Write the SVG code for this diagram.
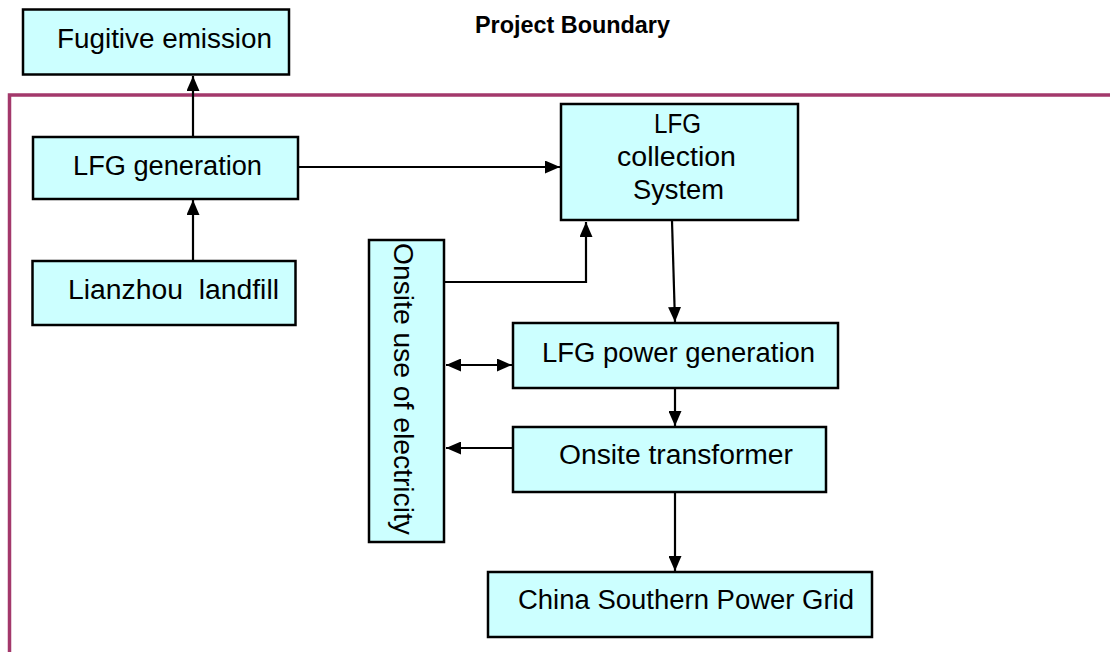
<svg xmlns="http://www.w3.org/2000/svg" width="1110" height="652" viewBox="0 0 1110 652">
<style>
.box{fill:#ccffff;stroke:#000;stroke-width:2.5}
.t{font-family:"Liberation Sans",Arial,sans-serif;font-size:27px;fill:#000}
.c{stroke:#000;stroke-width:2.2;fill:none}
.b{stroke:#a3386b;stroke-width:3.5;fill:none}
</style>
<defs>
<marker id="ah" viewBox="0 0 15 13" refX="15" refY="6.5" markerWidth="15" markerHeight="13" markerUnits="userSpaceOnUse" orient="auto-start-reverse">
<path d="M0,0 L15,6.5 L0,13 Z" fill="#000"/>
</marker>
</defs>
<rect width="1110" height="652" fill="#fff"/>
<g id="boundary">
<polyline class="b" points="1110,95 9.5,95 9.5,652"/>
<text x="475" y="33" font-family="Liberation Sans, Arial, sans-serif" font-size="23" font-weight="bold" textLength="195" lengthAdjust="spacingAndGlyphs">Project Boundary</text>
</g>
<g id="connectors">
<line class="c" x1="193" y1="137" x2="193" y2="76" marker-end="url(#ah)"/>
<line class="c" x1="193" y1="261" x2="193" y2="200" marker-end="url(#ah)"/>
<line class="c" x1="298" y1="167" x2="560" y2="167" marker-end="url(#ah)"/>
<polyline class="c" points="441,282 586,282 586,222" marker-end="url(#ah)"/>
<line class="c" x1="672" y1="221" x2="675" y2="322" marker-end="url(#ah)"/>
<line class="c" x1="446" y1="365" x2="512" y2="365" marker-start="url(#ah)" marker-end="url(#ah)"/>
<line class="c" x1="675" y1="388" x2="675" y2="426" marker-end="url(#ah)"/>
<line class="c" x1="513" y1="448" x2="446" y2="448" marker-end="url(#ah)"/>
<line class="c" x1="675" y1="492" x2="675" y2="571" marker-end="url(#ah)"/>
</g>
<g id="fugitive">
<rect class="box" x="23" y="9.5" width="266" height="65"/>
<text class="t" x="57" y="48" textLength="215" lengthAdjust="spacingAndGlyphs">Fugitive emission</text>
</g>
<g id="lfg-generation">
<rect class="box" x="33" y="137" width="265" height="62"/>
<text class="t" x="73" y="175" textLength="189" lengthAdjust="spacingAndGlyphs">LFG generation</text>
</g>
<g id="landfill">
<rect class="box" x="32.5" y="261" width="263" height="64"/>
<text class="t" x="68" y="299" textLength="211" lengthAdjust="spacingAndGlyphs" xml:space="preserve">Lianzhou  landfill</text>
</g>
<g id="collection">
<rect class="box" x="561" y="104" width="237" height="116"/>
<text class="t" x="654" y="133" textLength="47" lengthAdjust="spacingAndGlyphs">LFG</text>
<text class="t" x="617" y="166" textLength="119" lengthAdjust="spacingAndGlyphs">collection</text>
<text class="t" x="633" y="199" textLength="91" lengthAdjust="spacingAndGlyphs">System</text>
</g>
<g id="onsite-use">
<rect class="box" x="369" y="240" width="75" height="302"/>
<text class="t" transform="translate(394,243) rotate(90)" textLength="292" lengthAdjust="spacingAndGlyphs">Onsite use of electricity</text>
</g>
<g id="power-generation">
<rect class="box" x="513" y="323" width="325" height="65"/>
<text class="t" x="542" y="362" textLength="273" lengthAdjust="spacingAndGlyphs">LFG power generation</text>
</g>
<g id="transformer">
<rect class="box" x="513" y="427" width="313" height="65"/>
<text class="t" x="559" y="464" textLength="234" lengthAdjust="spacingAndGlyphs">Onsite transformer</text>
</g>
<g id="grid">
<rect class="box" x="488" y="572" width="384" height="65"/>
<text class="t" x="518" y="609" textLength="336" lengthAdjust="spacingAndGlyphs">China Southern Power Grid</text>
</g>
</svg>
